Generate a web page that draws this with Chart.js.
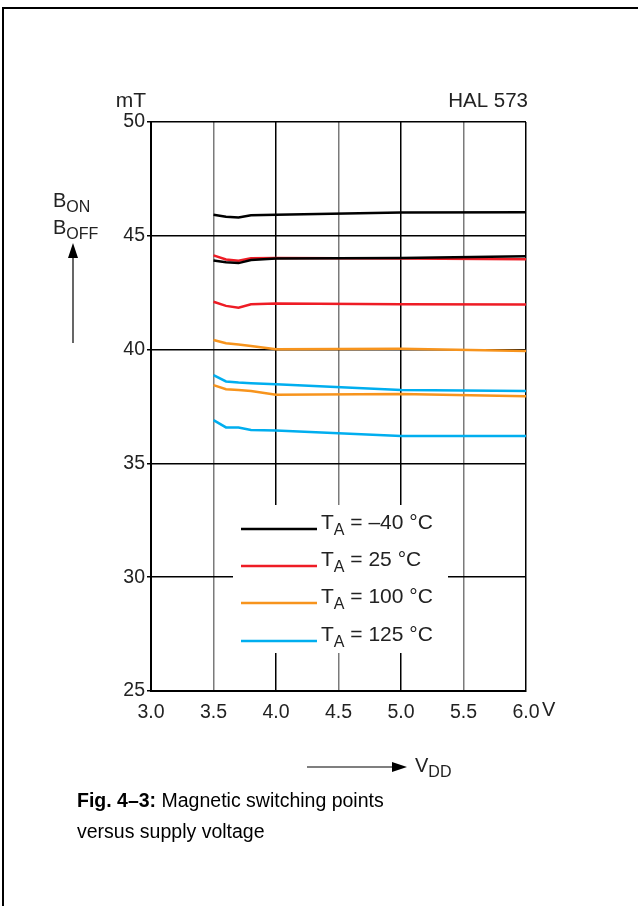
<!DOCTYPE html>
<html>
<head>
<meta charset="utf-8">
<script src="https://cdn.jsdelivr.net/npm/chart.js@4.4.0/dist/chart.umd.min.js"></script>
<style>
  html, body { margin: 0; padding: 0; background: #fff; }
  #page { position: relative; width: 638px; height: 906px; overflow: hidden; }
  #frame { position: absolute; left: 2px; top: 7px; right: -10px; bottom: -10px;
           border-left: 2px solid #000; border-top: 2px solid #000; }
  canvas { position: absolute; left: 0; top: 0; }
</style>
</head>
<body>
<div id="page">
  <div id="frame"></div>
  <canvas id="chart" width="638" height="906"></canvas>
</div>
<script>
// Supply voltage VDD in V
const vdd = [3.5, 3.6, 3.7, 3.8, 4.0, 5.0, 6.0];

// Switching points in mT (upper curve = B_ON, lower curve = B_OFF)
const bOnM40  = [45.92, 45.84, 45.80, 45.90, 45.93, 46.02, 46.03];
const bOffM40 = [43.91, 43.84, 43.80, 43.94, 44.00, 44.03, 44.10];
const bOn25   = [44.14, 43.96, 43.90, 44.01, 44.02, 44.00, 43.97];
const bOff25  = [42.10, 41.92, 41.84, 41.99, 42.02, 41.99, 41.98];
const bOn100  = [40.42, 40.28, 40.22, 40.16, 40.02, 40.04, 39.94];
const bOff100 = [38.44, 38.26, 38.22, 38.18, 38.02, 38.05, 37.95];
const bOn125  = [38.88, 38.60, 38.55, 38.52, 38.48, 38.22, 38.18];
const bOff125 = [36.90, 36.58, 36.58, 36.47, 36.45, 36.20, 36.20];

const tempLabels = ['\u201340 \u00b0C', '25 \u00b0C', '100 \u00b0C', '125 \u00b0C'];
const tempColors = ['#000000', '#ee1c25', '#f7941d', '#00aeef'];

const xTicks = [3.0, 3.5, 4.0, 4.5, 5.0, 5.5, 6.0];
const yTicks = [25, 30, 35, 40, 45, 50];

const FONT = '"Liberation Sans", Arial, sans-serif';

function pts(ys) {
  return vdd.map((x, i) => ({ x: x, y: ys[i] }));
}

function line(label, ys, color) {
  return {
    label: label,
    data: pts(ys),
    borderColor: color,
    borderWidth: 2.5,
    pointRadius: 0,
    tension: 0,
    fill: false
  };
}

// text with a subscript part, e.g. T_A, B_ON, V_DD
function subText(ctx, x, y, main, sub, rest, size, ratio) {
  ctx.font = size + 'px ' + FONT;
  ctx.fillText(main, x, y);
  x += ctx.measureText(main).width;
  ctx.font = Math.round(size * ratio) + 'px ' + FONT;
  ctx.fillText(sub, x, y + Math.round(size * 0.27));
  x += ctx.measureText(sub).width;
  if (rest) {
    ctx.font = size + 'px ' + FONT;
    ctx.fillText(rest, x, y);
  }
}

const extras = {
  id: 'extras',
  afterDraw(chart) {
    const ctx = chart.ctx;
    const area = chart.chartArea;
    ctx.save();
    ctx.fillStyle = '#222';
    ctx.textBaseline = 'alphabetic';

    // unit and type label
    ctx.font = '21px ' + FONT;
    ctx.textAlign = 'right';
    ctx.fillText('mT', area.left - 5, 107);
    ctx.font = '20.5px ' + FONT;
    ctx.fillText('HAL 573', area.right + 2, 107);
    ctx.textAlign = 'left';
    ctx.font = '20px ' + FONT;
    ctx.fillText('V', 542, 716);

    // y axis name + arrow
    subText(ctx, 53, 207, 'B', 'ON', '', 20, 0.78);
    subText(ctx, 53, 234, 'B', 'OFF', '', 20, 0.78);
    ctx.strokeStyle = '#000';
    ctx.fillStyle = '#000';
    ctx.lineWidth = 1.2;
    ctx.beginPath();
    ctx.moveTo(73, 343);
    ctx.lineTo(73, 255);
    ctx.stroke();
    ctx.beginPath();
    ctx.moveTo(73, 243);
    ctx.lineTo(68, 258);
    ctx.lineTo(78, 258);
    ctx.closePath();
    ctx.fill();

    // x axis name + arrow
    ctx.beginPath();
    ctx.moveTo(307, 767);
    ctx.lineTo(395, 767);
    ctx.stroke();
    ctx.beginPath();
    ctx.moveTo(407, 767);
    ctx.lineTo(392, 762);
    ctx.lineTo(392, 772);
    ctx.closePath();
    ctx.fill();
    ctx.fillStyle = '#222';
    subText(ctx, 415, 772, 'V', 'DD', '', 20, 0.8);

    // legend box over the grid
    ctx.fillStyle = '#fff';
    ctx.fillRect(233, 505, 215, 148);
    const rows = [529, 566, 603, 641];
    rows.forEach((y, i) => {
      ctx.strokeStyle = tempColors[i];
      ctx.lineWidth = 2.5;
      ctx.beginPath();
      ctx.moveTo(241, y);
      ctx.lineTo(317, y);
      ctx.stroke();
      ctx.fillStyle = '#222';
      subText(ctx, 321, y, 'T', 'A', ' = ' + tempLabels[i], 21, 0.78);
    });

    // caption
    ctx.fillStyle = '#000';
    ctx.font = 'bold 19.5px ' + FONT;
    ctx.fillText('Fig. 4\u20133:', 77, 807);
    const w = ctx.measureText('Fig. 4\u20133: ').width;
    ctx.font = '19.5px ' + FONT;
    ctx.fillText('Magnetic switching points', 77 + w, 807);
    ctx.fillText('versus supply voltage', 77, 838);
    ctx.restore();
  }
};

new Chart(document.getElementById('chart').getContext('2d'), {
  type: 'line',
  data: {
    datasets: [
      line('TA = \u201340 \u00b0C, BON', bOnM40, tempColors[0]),
      line('TA = \u201340 \u00b0C, BOFF', bOffM40, tempColors[0]),
      line('TA = 25 \u00b0C, BON', bOn25, tempColors[1]),
      line('TA = 25 \u00b0C, BOFF', bOff25, tempColors[1]),
      line('TA = 100 \u00b0C, BON', bOn100, tempColors[2]),
      line('TA = 100 \u00b0C, BOFF', bOff100, tempColors[2]),
      line('TA = 125 \u00b0C, BON', bOn125, tempColors[3]),
      line('TA = 125 \u00b0C, BOFF', bOff125, tempColors[3])
    ]
  },
  options: {
    responsive: false,
    animation: false,
    layout: { padding: { left: 0, top: 122, right: 112, bottom: 0 } },
    plugins: {
      legend: { display: false },
      tooltip: { enabled: false }
    },
    scales: {
      x: {
        type: 'linear',
        min: 3.0,
        max: 6.0,
        afterBuildTicks(scale) {
          scale.ticks = xTicks.map(v => ({ value: v }));
        },
        afterFit(scale) { scale.height = 215; },
        grid: {
          drawTicks: false,
          lineWidth: 1.5,
          color: c => (c.tick && [3.5, 4.5, 5.5].includes(c.tick.value)) ? '#7a7a7a' : '#000'
        },
        border: { display: true, color: '#000', width: 2 },
        ticks: {
          padding: 10,
          color: '#222',
          font: { family: FONT, size: 19.5 },
          maxRotation: 0,
          callback: v => v.toFixed(1)
        }
      },
      y: {
        min: 25,
        max: 50,
        afterBuildTicks(scale) {
          scale.ticks = yTicks.map(v => ({ value: v }));
        },
        afterFit(scale) { scale.width = 151; },
        grid: {
          color: '#000',
          lineWidth: 1.5,
          tickLength: 4
        },
        border: { display: true, color: '#000', width: 2 },
        ticks: {
          padding: 2,
          color: '#222',
          font: { family: FONT, size: 19.5 }
        }
      }
    }
  },
  plugins: [extras]
});
</script>
</body>
</html>
